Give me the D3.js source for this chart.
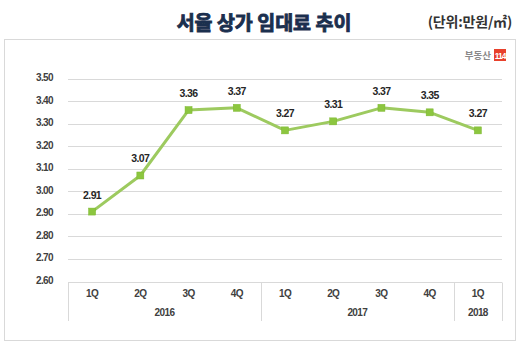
<!DOCTYPE html>
<html><head><meta charset="utf-8">
<script src="https://cdn.jsdelivr.net/npm/d3@7"></script>
<style>body{margin:0;background:#fff;}svg{display:block;}</style>
</head><body>
<script>
const quarters = ["1Q","2Q","3Q","4Q","1Q","2Q","3Q","4Q","1Q"];
const years = [{label:"2016", from:0, to:3},{label:"2017", from:4, to:7},{label:"2018", from:8, to:8}];
const values = [2.91,3.07,3.36,3.37,3.27,3.31,3.37,3.35,3.27];
const yTicks = [2.6,2.7,2.8,2.9,3.0,3.1,3.2,3.3,3.4,3.5];
const title = "서울 상가 임대료 추이";
const unit = "(단위:만원/㎡)";

const W=523,H=349;
const svg=d3.select("body").append("svg").attr("width",W).attr("height",H);
const font="'Noto Sans CJK KR','Liberation Sans',sans-serif";

svg.append("rect").attr("x",4.5).attr("y",39.5).attr("width",511).attr("height",301)
  .attr("fill","#fff").attr("stroke","#d9d9d9");

svg.append("text").attr("x",264).attr("y",29.5).attr("text-anchor","middle")
  .attr("font-family",font).attr("font-weight",700).attr("font-size",19.5)
  .attr("fill","#1b2f4e").attr("stroke","#1b2f4e").attr("stroke-width",0.9).text(title);
svg.append("text").attr("x",512).attr("y",27).attr("text-anchor","end")
  .attr("font-family",font).attr("font-weight",700).attr("font-size",14)
  .attr("fill","#333").attr("letter-spacing",-0.2).text(unit);

// logo
svg.append("text").attr("x",491).attr("y",59).attr("text-anchor","end")
  .attr("font-family",font).attr("font-weight",700).attr("font-size",9.5)
  .attr("fill","#8a8a8a").text("부동산");
svg.append("rect").attr("x",494).attr("y",49).attr("width",12).attr("height",12).attr("fill","#e8412c");
svg.append("text").attr("x",500).attr("y",58.5).attr("text-anchor","middle")
  .attr("font-family","'Liberation Sans Narrow','Liberation Sans',sans-serif").attr("font-weight",700).attr("font-size",8.5)
  .attr("fill","#fff").attr("letter-spacing",-1).text("114");

const x0=68,x1=502;
const y=d3.scaleLinear().domain([2.6,3.5]).range([281.5,78.5]);
const x=d3.scaleBand().domain(d3.range(quarters.length)).range([x0,x1]);

// gridlines
svg.append("g").selectAll("line").data(yTicks.filter(t=>t>2.6)).join("line")
  .attr("x1",x0).attr("x2",x1).attr("y1",d=>Math.round(y(d))+0.5).attr("y2",d=>Math.round(y(d))+0.5)
  .attr("stroke","#d9d9d9").attr("stroke-width",1);

// y labels
svg.append("g").selectAll("text").data(yTicks).join("text")
  .attr("x",53).attr("y",d=>y(d)-1).attr("dy","0.35em").attr("text-anchor","end")
  .attr("font-family","'Liberation Sans',sans-serif").attr("font-weight",700).attr("font-size",10)
  .attr("letter-spacing",-0.6).attr("fill","#404040").text(d=>d.toFixed(2));

// x axis table
const ax=svg.append("g");
const yTop=Math.round(y(2.6))+0.5, yBot=321;
ax.append("line").attr("x1",x0).attr("x2",x1).attr("y1",yTop).attr("y2",yTop).attr("stroke","#d9d9d9");
const seps=[x0, x(4), x(8), x1];
ax.selectAll("line.sep").data(seps).join("line").attr("class","sep")
  .attr("x1",d=>Math.round(d)+0.5).attr("x2",d=>Math.round(d)+0.5).attr("y1",yTop).attr("y2",yBot)
  .attr("stroke","#d9d9d9");
ax.selectAll("text.q").data(quarters).join("text").attr("class","q")
  .attr("x",(d,i)=>x(i)+x.bandwidth()/2).attr("y",297).attr("text-anchor","middle")
  .attr("font-family","'Liberation Sans',sans-serif").attr("font-weight",700).attr("font-size",10)
  .attr("letter-spacing",-0.6).attr("fill","#404040").text(d=>d);
ax.selectAll("text.yr").data(years).join("text").attr("class","yr")
  .attr("x",d=>(x(d.from)+x(d.to)+x.bandwidth())/2).attr("y",316).attr("text-anchor","middle")
  .attr("font-family","'Liberation Sans',sans-serif").attr("font-weight",700).attr("font-size",10)
  .attr("letter-spacing",-0.6).attr("fill","#404040").text(d=>d.label);

// line
const cx=i=>x(i)+x.bandwidth()/2;
svg.append("path").datum(values)
  .attr("d",d3.line().x((d,i)=>cx(i)).y(d=>y(d)))
  .attr("fill","none").attr("stroke","#9dca5f").attr("stroke-width",3).attr("stroke-linejoin","round");
svg.append("g").selectAll("rect").data(values).join("rect")
  .attr("x",(d,i)=>cx(i)-3.5).attr("y",d=>y(d)-3.5).attr("width",7).attr("height",7)
  .attr("fill","#8cc63f").attr("stroke","#7cb82f").attr("stroke-width",0.5);
svg.append("g").selectAll("text").data(values).join("text")
  .attr("x",(d,i)=>cx(i)).attr("y",d=>y(d)-13).attr("text-anchor","middle")
  .attr("font-family","'Liberation Sans',sans-serif").attr("font-weight",700).attr("font-size",10.5)
  .attr("letter-spacing",-0.6).attr("fill","#262626").text(d=>d.toFixed(2));
</script>
</body></html>
